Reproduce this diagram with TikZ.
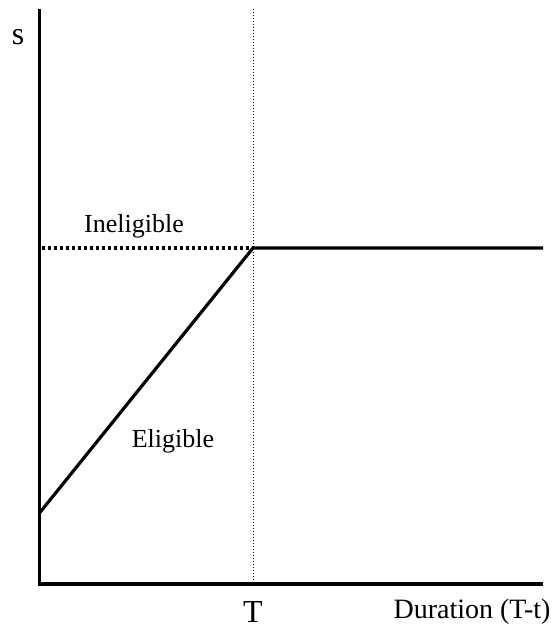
\documentclass[tikz,border=0pt]{standalone}
\usepackage{fontspec}
\setmainfont{Liberation Serif}
\usepackage{tikz}
\usetikzlibrary{arrows.meta,positioning,calc}

\begin{document}
\begin{tikzpicture}[x=1pt,y=-1pt,font=\fontsize{26}{28}\selectfont]
  \tikzset{axis/.style={line width=3.2pt},
    curve/.style={line width=3.2pt},
    guide/.style={line width=1pt,dotted},
    label/.style={inner sep=0pt,anchor=center}}
  \useasboundingbox (0,0) rectangle (553,634);
  \coordinate (top) at (39.5,9);
  \coordinate (origin) at (39.5,584);
  \coordinate (xend) at (543,584);
  \coordinate (start) at (39.5,513);
  \coordinate (kink) at (253,248);
  \coordinate (level) at (42,248);
  \coordinate (right) at (543,248);
  \coordinate (guidetop) at (253,9);
  \coordinate (guidebot) at (253,584);
  % axes
  \draw[axis] (top) -- (origin) -- (xend);
  \draw[guide] (guidetop) -- (guidebot);
  % curves
  \draw[curve,dash pattern=on 3pt off 3pt] (level) -- (kink);
  \draw[curve] (start) -- (kink) -- (right);
  % labels
  \node[label,font=\fontsize{32}{34}\selectfont] (slabel) at (18,37) {s};
  \node[label] (inel) at (134,226) {Ineligible};
  \node[label] (elig) at (173,441) {Eligible};
  \node[label,font=\fontsize{32}{34}\selectfont] (tlabel) at (253,612) {T};
  \node[label,font=\fontsize{28}{30}\selectfont] (xlabel) at (472,612) {Duration (T-t)};
\end{tikzpicture}
\end{document}
